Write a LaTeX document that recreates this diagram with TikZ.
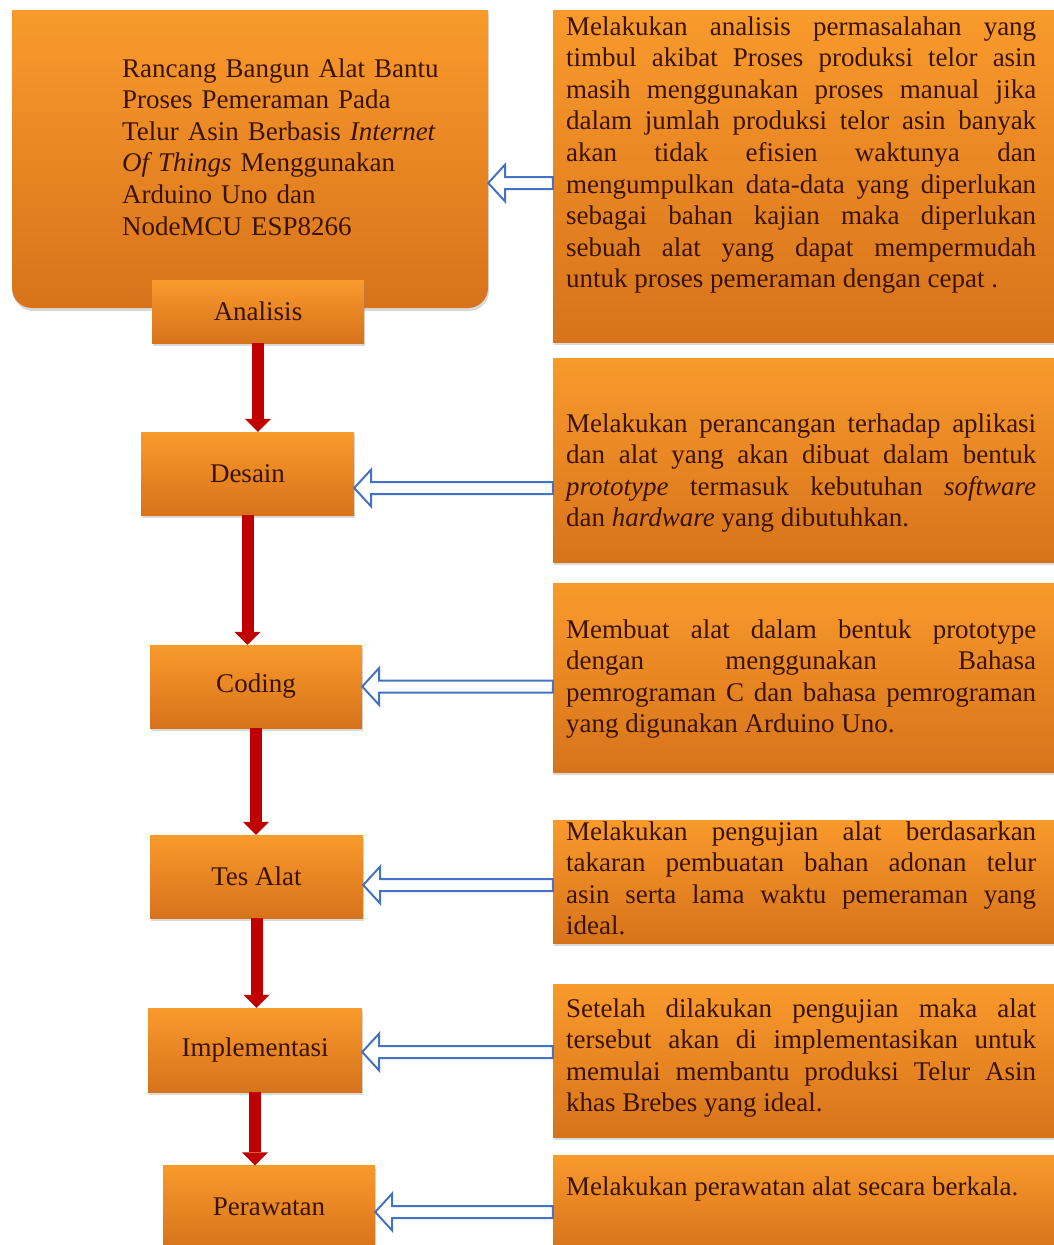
\documentclass[tikz,border=0pt]{standalone}
\usepackage{fontspec}
\setmainfont{Liberation Serif}
\usetikzlibrary{arrows.meta, positioning, calc, shadows}
\definecolor{oranyeatas}{HTML}{F99A2C}
\definecolor{oranyebawah}{HTML}{D7731B}
\definecolor{cmerah}{HTML}{C00000}
\definecolor{cbiru}{HTML}{4472C4}
\definecolor{ccoklat}{HTML}{3A1300}
\tikzset{
  kotak/.style={top color=oranyeatas, bottom color=oranyebawah, draw=none,
    drop shadow={shadow xshift=1pt, shadow yshift=-3pt, opacity=0.3}},
  teks/.style={text=ccoklat, font=\fontsize{27}{31.6}\selectfont},
  tahap/.style={kotak, teks, minimum width=#1, minimum height=83pt, inner sep=0pt},
  tahap/.default=212pt,
  ket/.style={teks, text width=470pt, align=justify, inner sep=0pt, anchor=base west},
  turun/.style={-{Triangle[length=13pt, width=26pt, line width=0pt]}, draw=cmerah, line width=12pt},
  kosong/.style={draw=cbiru, fill=white, line width=2pt, line join=miter},
}
% panah biru berongga: #1 = kotak kanan, #2 = ujung panah
\newcommand{\panahkosong}[2]{%
  \draw[kosong] let \p1=(#1), \p2=(#2) in
    (\x1,\y2+6pt) -- (\x2+17pt,\y2+6pt) -- (\x2+17pt,\y2+18.5pt) -- (\x2,\y2)
    -- (\x2+17pt,\y2-18.5pt) -- (\x2+17pt,\y2-6pt) -- (\x1,\y2-6pt) -- cycle;}

\begin{document}
\begin{tikzpicture}[x=1pt, y=-1pt]
  \useasboundingbox (0,0) rectangle (1054,1245);
  % kotak judul, hanya sudut bawah yang bulat
  \path[kotak] (12,10) -- (488,10) -- (488,288) arc[start angle=0, end angle=-90, radius=20pt]
    -- (32,308) arc[start angle=-90, end angle=-180, radius=20pt] -- cycle;
  \node[minimum width=476pt, minimum height=298pt] (judul) at (250,159) {};
  \node[teks, anchor=base west, text width=340pt, align=left, inner sep=0pt] (judulteks) at (122,77)
    {Rancang Bangun Alat Bantu\\Proses Pemeraman Pada\\Telur Asin Berbasis \textit{Internet}\\\textit{Of Things} Menggunakan\\Arduino Uno dan\\NodeMCU ESP8266};

  % tahapan
  \node[tahap, minimum height=63pt] (analisis) at (258,311.5) {Analisis};
  \node[tahap=213pt] (desain) at (247.5,473.5) {Desain};
  \node[tahap] (coding) at (256,686.5) {Coding};
  \node[tahap=213pt] (tesalat) at (256.5,876.5) {Tes Alat};
  \node[tahap=214pt, minimum height=84pt] (implementasi) at (255,1050) {Implementasi};
  \node[tahap] (perawatan) at (269,1207) {Perawatan};

  \draw[turun] (analisis.south) -- (analisis.south |- desain.north);
  \draw[turun] (desain.south) -- (desain.south |- coding.north);
  \draw[turun] (coding.south) -- (coding.south |- tesalat.north);
  \draw[turun] (tesalat.south) -- (tesalat.south |- implementasi.north);
  \draw[turun] (implementasi.south) -- (implementasi.south |- perawatan.north);

  % keterangan
  \node[kotak, minimum width=501pt, minimum height=332pt] (k1) at (803.5,176) {};
  \node[kotak, minimum width=501pt, minimum height=204pt] (k2) at (803.5,460) {};
  \node[kotak, minimum width=501pt, minimum height=189pt] (k3) at (803.5,677.5) {};
  \node[kotak, minimum width=501pt, minimum height=123pt] (k4) at (803.5,881.5) {};
  \node[kotak, minimum width=501pt, minimum height=153pt] (k5) at (803.5,1060.5) {};
  \node[kotak, minimum width=501pt, minimum height=95pt] (k6) at (803.5,1202.5) {};

  \node[ket] (t1) at (566,35) {Melakukan analisis permasalahan yang\linebreak
    timbul akibat Proses produksi telor asin\linebreak
    masih menggunakan proses manual jika\linebreak
    dalam jumlah produksi telor asin banyak\linebreak
    akan tidak efisien waktunya dan\linebreak
    mengumpulkan data-data yang diperlukan\linebreak
    sebagai bahan kajian maka diperlukan\linebreak
    sebuah alat yang dapat mempermudah\linebreak
    untuk proses pemeraman dengan cepat .};
  \node[ket] (t2) at (566,432) {Melakukan perancangan terhadap aplikasi\linebreak
    dan alat yang akan dibuat dalam bentuk\linebreak
    \textit{prototype} termasuk kebutuhan \textit{software}\linebreak
    dan \textit{hardware} yang dibutuhkan.};
  \node[ket] (t3) at (566,638) {Membuat alat dalam bentuk prototype\linebreak
    dengan menggunakan Bahasa\linebreak
    pemrograman C dan bahasa pemrograman\linebreak
    yang digunakan Arduino Uno.};
  \node[ket] (t4) at (566,840) {Melakukan pengujian alat berdasarkan\linebreak
    takaran pembuatan bahan adonan telur\linebreak
    asin serta lama waktu pemeraman yang\linebreak
    ideal.};
  \node[ket] (t5) at (566,1017) {Setelah dilakukan pengujian maka alat\linebreak
    tersebut akan di implementasikan untuk\linebreak
    memulai membantu produksi Telur Asin\linebreak
    khas Brebes yang ideal.};
  \node[ket] (t6) at (566,1195) {Melakukan perawatan alat secara berkala.};

  \panahkosong{k1.west}{[yshift=-24pt]judul.east}
  \panahkosong{k2.west}{[yshift=-14.5pt]desain.east}
  \panahkosong{k3.west}{coding.east}
  \panahkosong{k4.west}{[yshift=-8.5pt]tesalat.east}
  \panahkosong{k5.west}{[yshift=-2pt]implementasi.east}
  \panahkosong{k6.west}{[yshift=-5pt]perawatan.east}
\end{tikzpicture}
\end{document}
